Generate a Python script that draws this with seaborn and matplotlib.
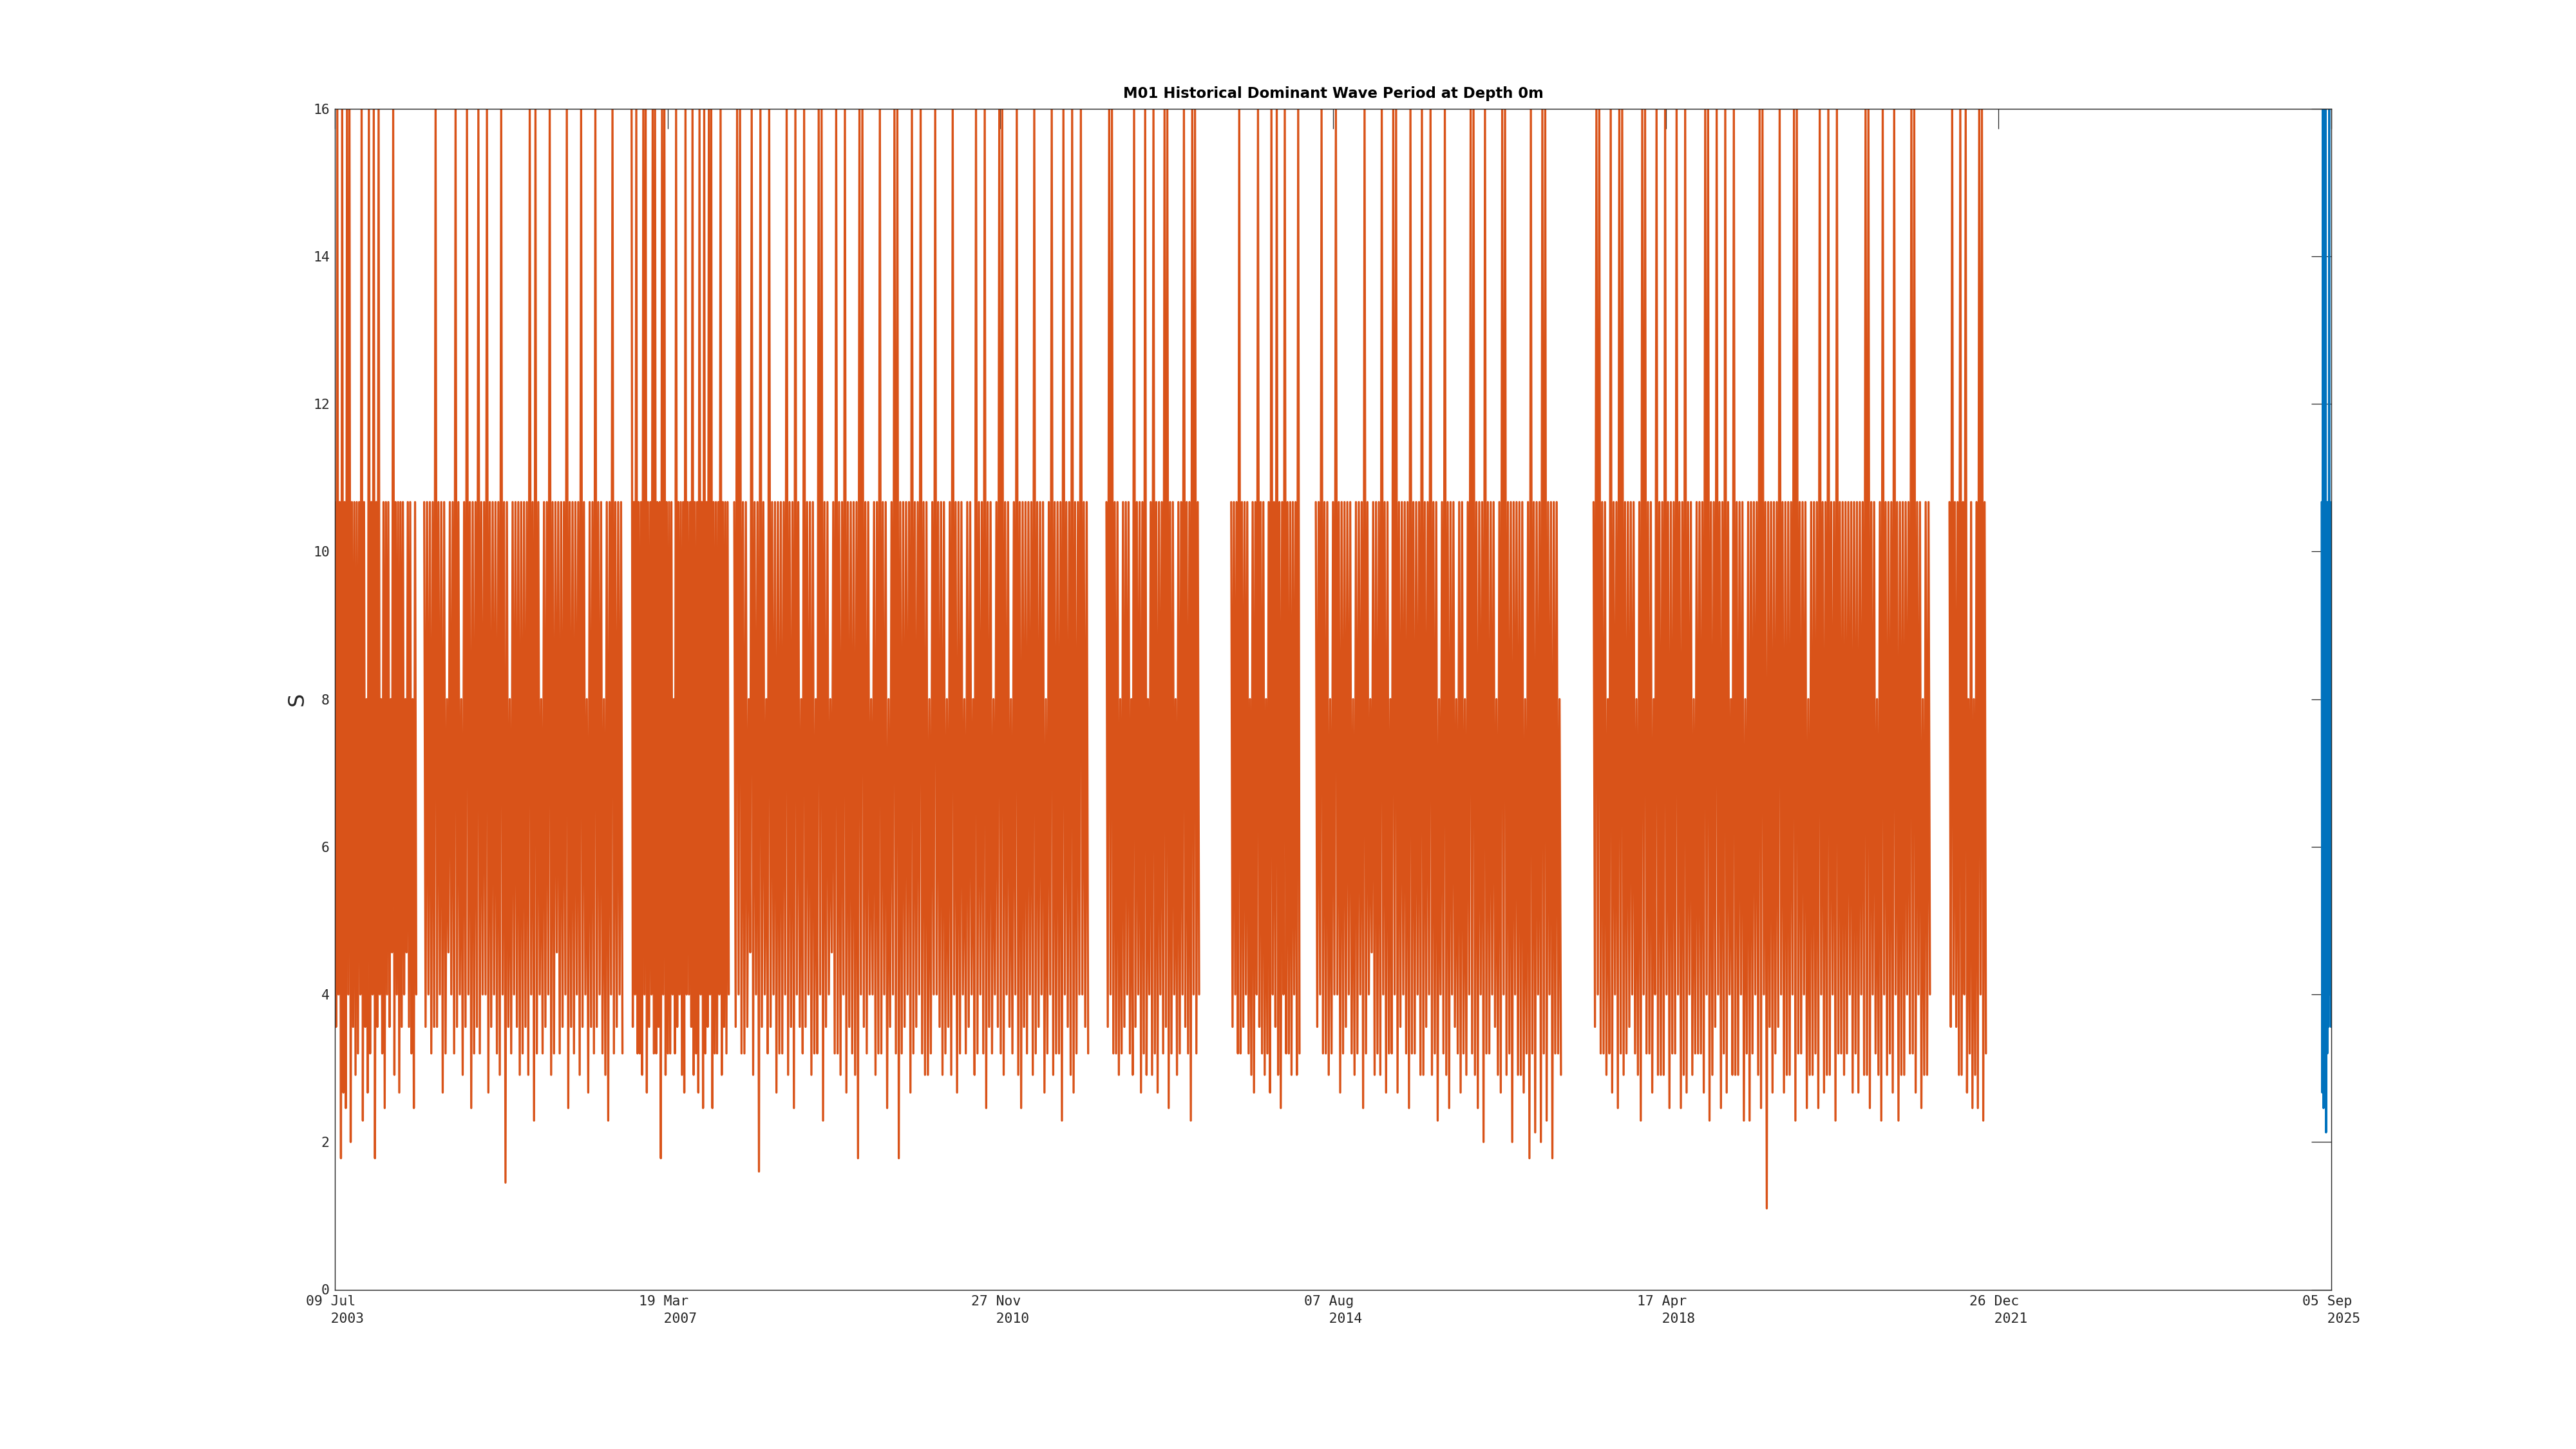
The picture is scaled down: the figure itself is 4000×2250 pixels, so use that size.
import pandas as pd
import seaborn as sns
import matplotlib.pyplot as plt
import matplotlib.dates as mdates

# buoy reports the period in fixed bins, one code char per bin
code_keys = "0123456789abcdefghi"
period_bins = [16.0, 10.67, 8.0, 6.4, 5.33, 4.57, 4.0, 3.56, 3.2, 2.91,
               2.67, 2.46, 2.29, 2.13, 2.0, 1.78, 1.6, 1.45, 1.1]

# historical deployments (orange)
seg_starts = ["2003-07-09", "2004-07-05", "2006-10-24", "2007-12-14", "2012-01-31",
              "2013-06-20", "2014-05-29", "2017-06-28", "2021-06-10"]
seg_ends = ["2004-06-03", "2006-09-17", "2007-11-22", "2011-11-18", "2013-02-10",
            "2014-03-24", "2017-02-16", "2021-03-23", "2021-11-05"]
seg_codes = [
    "1706 1f0a 1b06 0e17 1918 160c 172a 0816 0f17 0628 1b16 1725 0916 1a17 1625 1718 2b16",
    "1716 1817 0716 1a18 2516 1807 1629 1706 1b18 1708 1616 0a17 1618 1906 1h17 2816 "
    "1719 1817 1906 1c08 1628 1716 0918 1518 1716 0b17 1816 1907 162a 1718 0716 1829 "
    "1c16 0817 1618",
    "0716 0818 1906 0a17 1608 0817 1f06 0918 1816 2807 1619 1a06 1617 0918 1a06 1b08 "
    "1706 0b18 1816 0917 1816",
    "1706 0818 1725 0916 1g07 1628 0716 1a18 1816 0917 1b06 1728 0716 1918 2806 0c17 "
    "1625 1808 1916 0a17 1819 1f06 0718 1626 1918 0816 1b27 1608 0f18 1716 1a08 1716 "
    "0819 1928 1606 1719 1827 1906 1a18 1628 1716 2908 1618 0b17 1826 1708 0916 1728 "
    "1609 1b17 1816 1908 1716 1a28 1609 1818 1c06 1719 0a18 1606 1718",
    "1706 0818 1928 1716 1829 0716 1a18 0926 1908 1a16 1807 0b18 1629 1816 0718 1c06 0816",
    "1716 1808 1716 1829 1a16 0718 1928 1a06 1709 1b16 0818 1916 1908",
    "1716 0818 1928 1606 1a18 1716 1829 1816 1b08 1625 1918 1906 1a18 2806 0a17 1618 "
    "1b08 1816 1909 1716 0918 1c26 1809 1b16 1728 1a18 2916 0809 1b16 1e08 1816 1729 "
    "1a06 0918 1e16 1919 1a28 1f08 1d16 1e08 0c16 1f18 1829",
    "1706 0818 1928 0a16 1b08 0918 1716 1829 1c06 0818 1a26 0919 1906 1b18 1806 1b19 "
    "0a16 1928 1818 1a06 0c19 1706 1b18 0a16 2909 1916 1c28 1c18 1619 0b06 1i17 1a18 "
    "1706 1a19 1916 0c08 1816 1b29 1918 1b06 1a19 0916 1c08 1819 1816 1a18 1a16 1909 "
    "0b16 1829 1c06 1918 1a06 1c19 1916 1808 0a16 1b29 1916",
    "1706 1719 0916 0a28 1b29 1b06 0c18",
]

# recent deployment (blue)
rec_start = "2025-07-28"
rec_end = "2025-09-04"
rec_codes = "1a0b 170d 1817 0617"

tick_dates = ["2003-07-09", "2007-03-19", "2010-11-27", "2014-08-07",
              "2018-04-17", "2021-12-26", "2025-09-05"]
tick_labels = ["09 Jul\n   2003", "19 Mar\n   2007", "27 Nov\n   2010", "07 Aug\n   2014",
               "17 Apr\n   2018", "26 Dec\n   2021", "05 Sep\n   2025"]

orange = "#D95319"
blue = "#0072BD"
axcol = "#262626"


def decode(start, end, codes, seg):
    codes = codes.replace(" ", "")
    vals = [period_bins[code_keys.index(c)] for c in codes]
    t = pd.date_range(start, end, periods=len(vals))
    return pd.DataFrame({"time": t, "period": vals, "seg": seg})


hist = pd.concat([decode(s, e, c, i) for i, (s, e, c) in
                  enumerate(zip(seg_starts, seg_ends, seg_codes))], ignore_index=True)
rec = decode(rec_start, rec_end, rec_codes, 0)

sns.set_style("white")
plt.rcParams["font.family"] = ["DejaVu Sans"]

fig = plt.figure(figsize=(20, 11.25), dpi=200)
ax = fig.add_axes([0.13, 0.11, 0.775, 0.815])

# thick-ish lines so the dense part reads as a solid band like the hourly original
sns.lineplot(data=rec, x="time", y="period", color=blue, lw=1.2, estimator=None, ax=ax)
sns.lineplot(data=hist, x="time", y="period", units="seg", estimator=None,
             color=orange, lw=1.2, ax=ax)

ax.set_xlim(mdates.date2num(pd.Timestamp("2003-07-09")), mdates.date2num(pd.Timestamp("2025-09-05")))
ax.set_ylim(0, 16)
ax.set_yticks(range(0, 17, 2))
ax.set_xticks([mdates.date2num(pd.Timestamp(d)) for d in tick_dates])
ax.set_xticklabels(tick_labels)
for lbl in ax.get_xticklabels():
    lbl.set_multialignment("left")
    lbl.set_linespacing(1.45)

ax.tick_params(direction="in", length=11, width=0.45, color=axcol, labelcolor=axcol,
               top=True, right=True, labelsize=7.7, pad=3)
for lbl in ax.get_xticklabels() + ax.get_yticklabels():
    lbl.set_family("DejaVu Sans Mono")
for sp in ax.spines.values():
    sp.set_color(axcol)
    sp.set_linewidth(0.5)
    sp.set_visible(True)

ax.set_xlabel("")
ax.set_ylabel("S", fontsize=12, color=axcol, labelpad=3)
ax.set_title("M01 Historical Dominant Wave Period at Depth 0m", fontsize=8.2,
             fontweight="bold", color="black", pad=6)

fig.savefig("out.png", dpi=200, facecolor="white")
